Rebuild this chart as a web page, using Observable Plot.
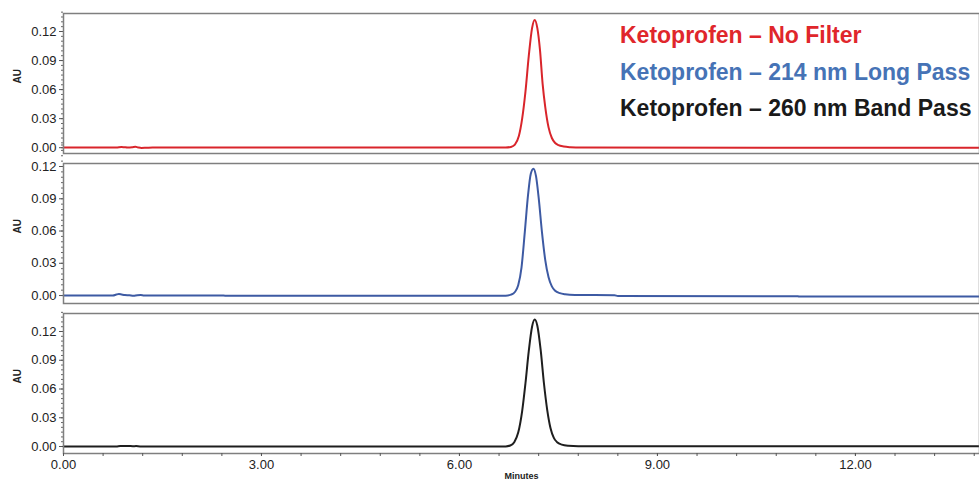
<!DOCTYPE html>
<html>
<head>
<meta charset="utf-8">
<script src="https://cdn.jsdelivr.net/npm/d3@7"></script>
<script src="https://cdn.jsdelivr.net/npm/@observablehq/plot@0.6"></script>
<style>
  html, body { margin: 0; padding: 0; background: #fff; }
  #wrap { position: relative; width: 979px; height: 480px; overflow: hidden; font-family: "Liberation Sans", Arial, sans-serif; }
  #wrap svg { display: block; }
  .lg { position: absolute; left: 620px; font: bold 23px/25px "Liberation Sans", Arial, sans-serif; white-space: nowrap; }
</style>
</head>
<body>
<div id="wrap"></div>
<script>
// ---- data ----
const seriesNames = ["Ketoprofen – No Filter", "Ketoprofen – 214 nm Long Pass", "Ketoprofen – 260 nm Band Pass"];
const seriesColors = ["#d9252b", "#3d5aa3", "#1e1e1e"];
const legendColors = ["#e0262b", "#4673b6", "#1a1a1a"];

const timeNoFilter = [0, 0.80, 0.88, 0.92, 0.97, 1.04, 1.09, 1.13, 1.18, 1.25, 1.35, 6.70, 6.78, 6.84, 6.90, 6.95, 7.00, 7.05, 7.10, 7.14, 7.18, 7.22, 7.26, 7.30, 7.35, 7.40, 7.45, 7.50, 7.58, 7.68, 7.85, 13.88];
const auNoFilter   = [0.0002, 0.0002, 0.0007, 0.0005, 0.0002, 0.0004, 0.0009, 0.0003, -0.0002, -0.0001, 0.0001, 0.0001, 0.0008, 0.0032, 0.012, 0.030, 0.058, 0.0945, 0.1235, 0.132, 0.1235, 0.101, 0.066, 0.042, 0.021, 0.010, 0.0048, 0.0026, 0.0012, 0.0005, 0.0001, 0.0];

const timeLongPass = [0, 0.75, 0.80, 0.84, 0.88, 0.93, 1.00, 1.06, 1.12, 1.17, 1.22, 1.30, 2.40, 2.45, 5.00, 5.05, 6.70, 6.78, 6.84, 6.89, 6.94, 6.99, 7.04, 7.08, 7.12, 7.16, 7.20, 7.25, 7.30, 7.35, 7.40, 7.45, 7.52, 7.60, 7.75, 8.35, 8.40, 11.10, 11.15, 13.88];
const auLongPass   = [0.0, 0.0, 0.0009, 0.0014, 0.0010, 0.0005, 0.0002, -0.0003, 0.0003, 0.0004, 0.0, 0.0001, 0.0001, -0.0001, -0.0001, -0.0003, -0.0002, 0.0008, 0.0033, 0.0095, 0.026, 0.059, 0.094, 0.113, 0.118, 0.111, 0.091, 0.059, 0.033, 0.017, 0.0085, 0.0045, 0.0022, 0.0012, 0.0006, 0.0003, -0.0004, -0.0006, -0.0009, -0.0010];

const timeBandPass = [0, 0.80, 0.86, 0.92, 0.98, 1.05, 1.10, 1.16, 1.25, 6.70, 6.77, 6.83, 6.89, 6.95, 7.00, 7.05, 7.10, 7.14, 7.18, 7.23, 7.28, 7.33, 7.38, 7.43, 7.48, 7.55, 7.65, 7.80, 13.88];
const auBandPass   = [0.0001, 0.0001, 0.0006, 0.0004, 0.0005, 0.0003, 0.0004, 0.0001, 0.0001, 0.0001, 0.0010, 0.0045, 0.0145, 0.037, 0.066, 0.0995, 0.125, 0.1325, 0.126, 0.101, 0.066, 0.038, 0.019, 0.009, 0.0045, 0.002, 0.0008, 0.0003, 0.0002];

const yTicks = [0, 0.03, 0.06, 0.09, 0.12];
const xTicks = [0, 3, 6, 9, 12];
const xDomain = [0, 13.88];
const yDomains = [[-0.006, 0.1386], [-0.0074, 0.1228], [-0.0073, 0.1388]];
const yLabel = "AU";
const xLabel = "Minutes";

// ---- drawing ----
const traces = [
  timeNoFilter.map((t, i) => ({t, v: auNoFilter[i]})),
  timeLongPass.map((t, i) => ({t, v: auLongPass[i]})),
  timeBandPass.map((t, i) => ({t, v: auBandPass[i]}))
];
const layouts = [
  {height: 158, marginTop: 13, marginBottom: 5},
  {height: 150, marginTop: 5, marginBottom: 5},
  {height: 172, marginTop: 5, marginBottom: 27}
];
const minorY = d3.range(0, 0.1401, 0.005);
const minorX = d3.range(0, 13.9, 0.6);
const wrap = document.getElementById("wrap");

traces.forEach((data, k) => {
  const last = k === 2;
  const marks = [
    Plot.axisY(minorY, {tickSize: 2, tickFormat: () => "", stroke: "#666", label: null}),
    Plot.axisY(yTicks, {tickSize: 4, tickFormat: d3.format(".2f"), fontSize: 13, tickPadding: 3, stroke: "#555", fill: "#222", label: null}),
    Plot.text([yLabel], {frameAnchor: "left", dx: -46, rotate: -90, fontWeight: "bold", fontSize: 10, fill: "#222"}),
    Plot.line(data, {x: "t", y: "v", stroke: seriesColors[k], strokeWidth: 2, curve: "monotone-x"}),
    Plot.frame({stroke: "#7f7f7f", strokeWidth: 1.5})
  ];
  if (last) {
    marks.push(
      Plot.axisX(minorX, {tickSize: 3, tickFormat: () => "", stroke: "#555", label: null}),
      Plot.axisX(xTicks, {tickSize: 3, tickPadding: 3, tickFormat: d3.format(".2f"), fontSize: 13, stroke: "#555", fill: "#222", label: null}),
      Plot.text([xLabel], {frameAnchor: "bottom", dy: 25, fontWeight: "bold", fontSize: 9, fill: "#222"})
    );
  }
  const svg = Plot.plot({
    width: 979,
    height: layouts[k].height,
    marginLeft: 63,
    marginRight: 0,
    marginTop: layouts[k].marginTop,
    marginBottom: layouts[k].marginBottom,
    style: {fontFamily: "'Liberation Sans', Arial, sans-serif", background: "#fff", overflow: "visible"},
    x: {domain: xDomain, axis: last ? undefined : null},
    y: {domain: yDomains[k]},
    marks
  });
  wrap.appendChild(svg);
});

const tops = [23, 60, 96];
seriesNames.forEach((name, i) => {
  const d = document.createElement("div");
  d.className = "lg";
  d.style.top = tops[i] + "px";
  d.style.color = legendColors[i];
  d.textContent = name;
  wrap.appendChild(d);
});
</script>
</body>
</html>
